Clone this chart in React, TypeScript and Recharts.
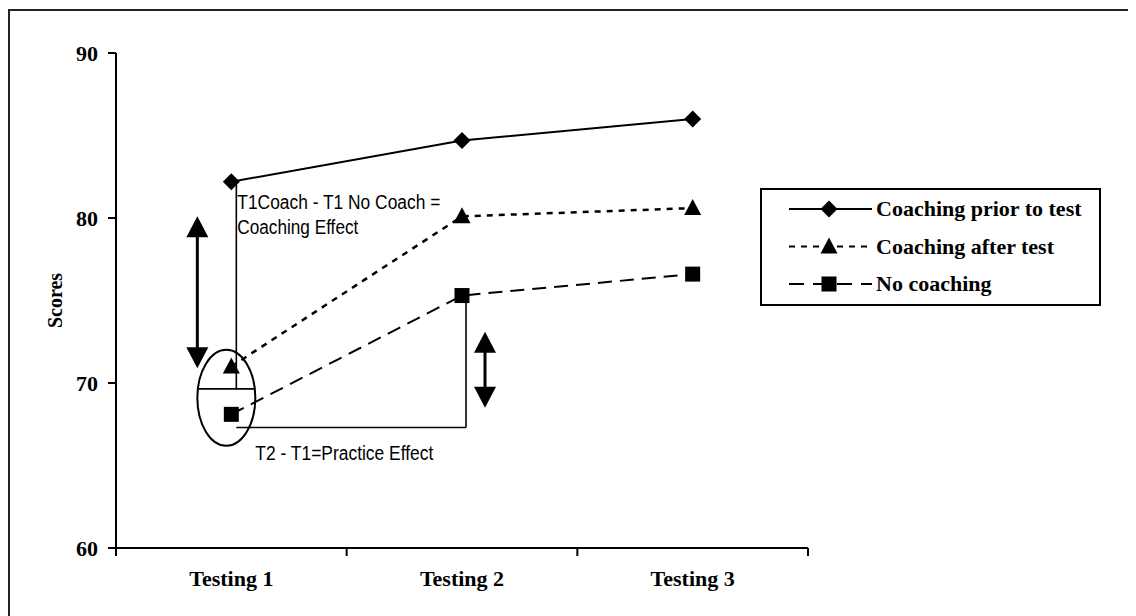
import React from 'react';
import {
    LineChart,
    Line,
    XAxis,
    YAxis,
    Legend,
    ReferenceLine,
    ReferenceDot,
} from 'recharts';

// values
const categories = ['Testing 1', 'Testing 2', 'Testing 3'];
const priorCoaching = [82.2, 84.7, 86.0];
const afterCoaching = [71.0, 80.1, 80.6];
const noCoaching = [68.1, 75.3, 76.6];
const yTicks = [60, 70, 80, 90];

// annotation anchors, in score units
const coachingLineBottom = 69.6;
const ellipseCentre = 69.1;
const practiceBase = 67.3;
const coachingArrow = [80.1, 70.9];
const practiceArrow = [73.1, 68.5];

const seriesNames = ['Coaching prior to test', 'Coaching after test', 'No coaching'];

const data = categories.map((name, i) => ({
    name,
    prior: priorCoaching[i],
    after: afterCoaching[i],
    none: noCoaching[i],
}));

const serif = '"Liberation Serif", "Times New Roman", serif';
const sans = '"Liberation Sans", Arial, sans-serif';

const Diamond = ({ cx, cy, s = 8.5 }: any) => (
    <polygon points={`${cx},${cy - s} ${cx + s},${cy} ${cx},${cy + s} ${cx - s},${cy}`} fill="#000" />
);
const Triangle = ({ cx, cy }: any) => (
    <polygon points={`${cx},${cy - 9} ${cx + 8.5},${cy + 7} ${cx - 8.5},${cy + 7}`} fill="#000" />
);
const Square = ({ cx, cy }: any) => (
    <rect x={cx - 7.5} y={cy - 7.5} width={15} height={15} fill="#000" />
);

const TICK_MARGIN = 22;

// category label in the middle, tick marks on the band edges (as in Excel)
const CategoryTick = ({ x, y, payload }: any) => {
    const half = payload?.offset || 115.5;
    const axisY = y - TICK_MARGIN;
    const isLast = payload.value === categories[categories.length - 1];
    return (
        <g>
            <line x1={x - half} y1={axisY} x2={x - half} y2={axisY + 8} stroke="#000" strokeWidth={2} />
            {isLast && <line x1={x + half} y1={axisY} x2={x + half} y2={axisY + 8} stroke="#000" strokeWidth={2} />}
            <text x={x} y={y} dy="0.71em" textAnchor="middle" fontFamily={serif} fontWeight="bold" fontSize={22} fill="#000">
                {payload.value}
            </text>
        </g>
    );
};

const shiftedLine = (dx1: number, dx2: number) => (p: any) => (
    <line x1={p.x1 + dx1} y1={p.y1} x2={p.x2 + dx2} y2={p.y2} stroke="#000" strokeWidth={1.6} />
);

const doubleArrow = (dx: number) => (p: any) => {
    const x = p.x1 + dx;
    const top = Math.min(p.y1, p.y2);
    const bottom = Math.max(p.y1, p.y2);
    return (
        <g>
            <line x1={x} y1={top + 10} x2={x} y2={bottom - 10} stroke="#000" strokeWidth={3} />
            <polygon points={`${x},${top} ${x + 11},${top + 21} ${x - 11},${top + 21}`} fill="#000" />
            <polygon points={`${x},${bottom} ${x + 11},${bottom - 21} ${x - 11},${bottom - 21}`} fill="#000" />
        </g>
    );
};

const EllipseMark = ({ cx, cy }: any) => (
    <g>
        <ellipse cx={cx - 5} cy={cy} rx={29} ry={48} fill="none" stroke="#000" strokeWidth={2} />
        <line x1={cx - 33} y1={cy - 9} x2={cx + 23} y2={cy - 9} stroke="#000" strokeWidth={1.6} />
    </g>
);

const CoachingText = ({ cx, cy }: any) => (
    <g fontFamily={sans} fontSize={20} fill="#000">
        <text x={cx + 6} y={cy + 27} textLength={203} lengthAdjust="spacingAndGlyphs">T1Coach - T1 No Coach =</text>
        <text x={cx + 6} y={cy + 52} textLength={121} lengthAdjust="spacingAndGlyphs">Coaching Effect</text>
    </g>
);

const PracticeText = ({ cx, cy }: any) => (
    <text x={cx + 24} y={cy + 32} fontFamily={sans} fontSize={20} fill="#000" textLength={178} lengthAdjust="spacingAndGlyphs">
        T2 - T1=Practice Effect
    </text>
);

const LegendBox = () => {
    const rows = [
        { dash: undefined, Marker: Diamond },
        { dash: '6 6', Marker: Triangle },
        { dash: '15 9', Marker: Square },
    ];
    return (
        <svg width={341} height={118} style={{ display: 'block' }}>
            <rect x={1} y={1} width={339} height={116} fill="#fff" stroke="#000" strokeWidth={2} />
            {rows.map((r, i) => {
                const y = 21 + i * 37.5;
                return (
                    <g key={i}>
                        <line x1={29} y1={y} x2={112} y2={y} stroke="#000" strokeWidth={2} strokeDasharray={r.dash} />
                        <r.Marker cx={69} cy={y} />
                        <text x={116} y={y + 7} fontFamily={serif} fontWeight="bold" fontSize={22} fill="#000">
                            {seriesNames[i]}
                        </text>
                    </g>
                );
            })}
        </svg>
    );
};

const ScoresLabel = ({ viewBox }: any) => {
    const x = viewBox.x - 1;
    const y = viewBox.y + viewBox.height / 2;
    return (
        <text x={x} y={y} transform={`rotate(-90 ${x} ${y})`} textAnchor="middle" dominantBaseline="central"
            fontFamily={serif} fontWeight="bold" fontSize={20} fill="#000">
            Scores
        </text>
    );
};

const axisText = { fill: '#000', fontFamily: serif, fontWeight: 'bold', fontSize: 22 };

export default function App() {
    return (
        <div style={{ position: 'relative', width: 1128, height: 608 }}>
            <div
                style={{
                    position: 'absolute',
                    left: 0,
                    top: 1,
                    width: 1128,
                    height: 607,
                    borderLeft: '2px solid #222',
                    borderTop: '2px solid #222',
                    pointerEvents: 'none',
                }}
            />
            <LineChart width={1120} height={600} data={data} margin={{ top: 45, right: 320, bottom: 10, left: 48 }}>
                <XAxis
                    dataKey="name"
                    scale="band"
                    height={50}
                    interval={0}
                    axisLine={{ stroke: '#000', strokeWidth: 2 }}
                    tickLine={false}
                    tickSize={0}
                    tickMargin={TICK_MARGIN}
                    tick={<CategoryTick />}
                />
                <YAxis
                    domain={[60, 90]}
                    ticks={yTicks}
                    width={60}
                    tickSize={8}
                    tickMargin={10}
                    axisLine={{ stroke: '#000', strokeWidth: 2 }}
                    tickLine={{ stroke: '#000', strokeWidth: 2 }}
                    tick={axisText}
                    label={<ScoresLabel />}
                />
                <Legend
                    layout="horizontal"
                    verticalAlign="middle"
                    align="center"
                    content={<LegendBox />}
                    wrapperStyle={{ position: 'absolute', left: 752, top: 180, width: 341, height: 118 }}
                />

                {/* annotations */}
                <ReferenceLine
                    segment={[{ x: categories[0], y: priorCoaching[0] }, { x: categories[0], y: coachingLineBottom }]}
                    shape={shiftedLine(5, 5)}
                />
                <ReferenceLine
                    segment={[{ x: categories[0], y: practiceBase }, { x: categories[1], y: practiceBase }]}
                    shape={shiftedLine(5, 4)}
                />
                <ReferenceLine
                    segment={[{ x: categories[1], y: practiceBase }, { x: categories[1], y: noCoaching[1] }]}
                    shape={shiftedLine(4, 4)}
                />
                <ReferenceLine
                    segment={[{ x: categories[0], y: coachingArrow[0] }, { x: categories[0], y: coachingArrow[1] }]}
                    shape={doubleArrow(-34)}
                />
                <ReferenceLine
                    segment={[{ x: categories[1], y: practiceArrow[0] }, { x: categories[1], y: practiceArrow[1] }]}
                    shape={doubleArrow(23)}
                />
                <ReferenceDot x={categories[0]} y={ellipseCentre} shape={EllipseMark} />
                <ReferenceDot x={categories[0]} y={priorCoaching[0]} shape={CoachingText} />
                <ReferenceDot x={categories[0]} y={practiceBase} shape={PracticeText} />

                <Line
                    type="linear"
                    dataKey="prior"
                    name={seriesNames[0]}
                    stroke="#000"
                    strokeWidth={2}
                    dot={(p: any) => <Diamond key={p.index} cx={p.cx} cy={p.cy} />}
                    activeDot={false}
                    isAnimationActive={false}
                />
                <Line
                    type="linear"
                    dataKey="after"
                    name={seriesNames[1]}
                    stroke="#000"
                    strokeWidth={2.5}
                    strokeDasharray="6 6"
                    dot={(p: any) => <Triangle key={p.index} cx={p.cx} cy={p.cy} />}
                    activeDot={false}
                    isAnimationActive={false}
                />
                <Line
                    type="linear"
                    dataKey="none"
                    name={seriesNames[2]}
                    stroke="#000"
                    strokeWidth={2}
                    strokeDasharray="14 8"
                    dot={(p: any) => <Square key={p.index} cx={p.cx} cy={p.cy} />}
                    activeDot={false}
                    isAnimationActive={false}
                />
            </LineChart>
        </div>
    );
}
